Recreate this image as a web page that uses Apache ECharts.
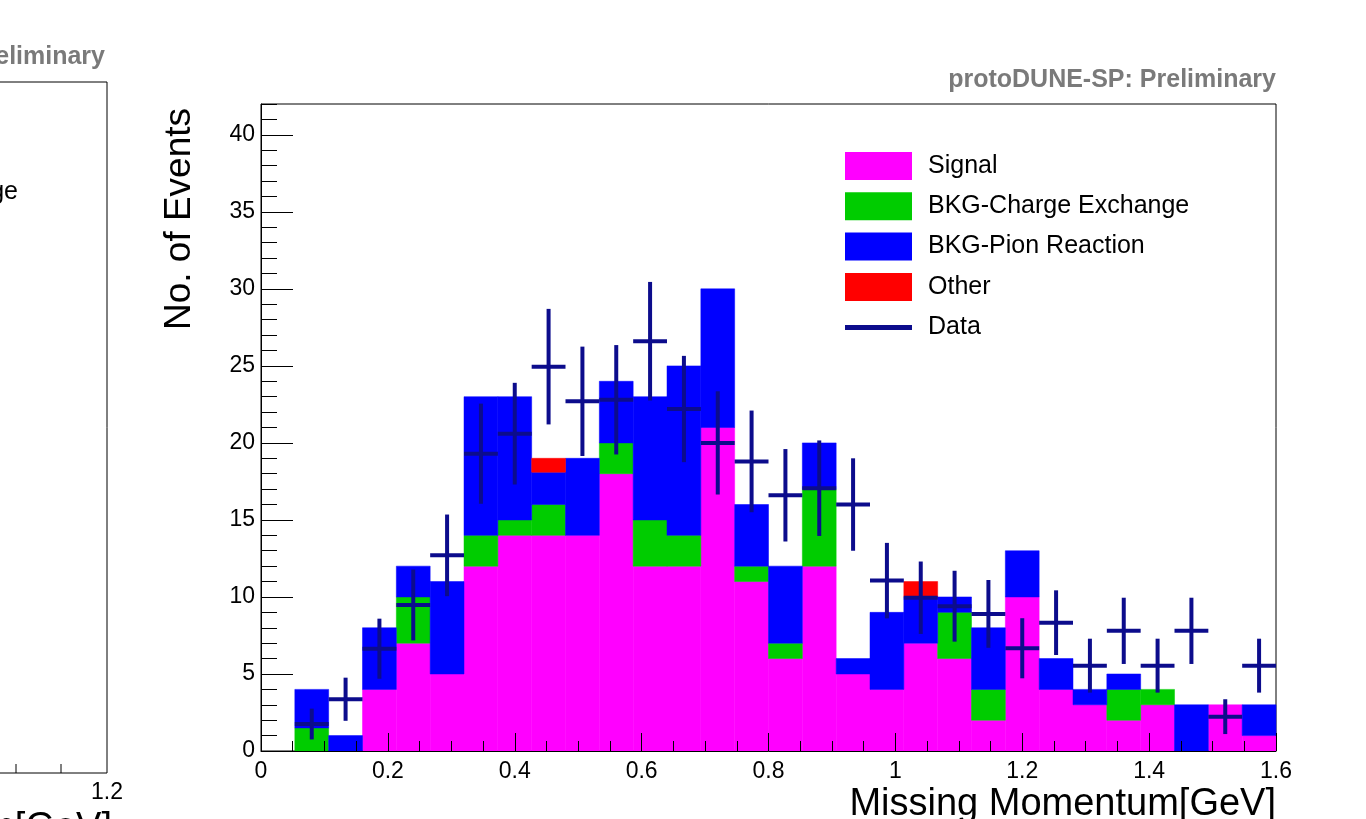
<!DOCTYPE html>
<html><head><meta charset="utf-8">
<script src="https://cdn.jsdelivr.net/npm/echarts@6/dist/echarts.min.js"></script>
<style>html,body{margin:0;padding:0;background:#fff}#c{width:1366px;height:819px}</style>
</head><body><div id="c"></div>
<script>
// Histogram binning: 30 bins over [0, 1.6] GeV
const xMin = 0, xMax = 1.6, nBins = 30;
// Stacked MC components per bin (bottom to top)
const signal         = [0,0,  0,4,7,5,12,14,14,14,18,12,12,21,11,6,12,5,4,7,6,2,10,4,3,2,3,0,3,1];
const chargeExchange = [0,1.5,0,0,3,0,2, 1, 2, 0, 2, 3, 2, 0, 1, 1,5, 0,0,0,3,2,0, 0,0,2,1,0,0,0];
const pionReaction   = [0,2.5,1,4,2,6,9, 8, 2.1,5,4, 8, 11,9, 4, 5,3, 1,5,3,1,4,3, 2,1,1,0,3,0,2];
const other          = [0,0,  0,0,0,0,0, 0, 0.9,0,0, 0, 0, 0, 0, 0,0, 0,0,1,0,0,0, 0,0,0,0,0,0,0];
// Data points and their error half-lengths
const dataValues = [null,1.75,3.36,6.64,9.48,12.7,19.3,20.6,24.95,22.7,22.8,26.6,22.2,20.0,18.8,16.6,17.06,16.0,11.06,9.95,9.4,8.9,6.67,8.33,5.54,7.8,5.54,7.8,2.23,5.54];
const dataErrors = [null,1.0,1.4,1.95,2.3,2.65,3.25,3.3,3.75,3.55,3.55,3.85,3.45,3.35,3.3,3.0,3.1,3.0,2.45,2.35,2.3,2.2,1.95,2.1,1.75,2.15,1.75,2.15,1.13,1.75];
const seriesNames = ['Signal','BKG-Charge Exchange','BKG-Pion Reaction','Other'];
const seriesColors = ['#ff00ff','#00cc00','#0000ff','#ff0000'];
const dataColor = '#0c0c8c';
const yMax = 42;

const binW = (xMax - xMin) / nBins;
const comps = [signal, chargeExchange, pionReaction, other];
const base = new Array(nBins).fill(0);
const barSeries = comps.map((vals, k) => {
  const rows = [];
  for (let i = 0; i < nBins; i++) {
    const lo = xMin + i * binW, hi = lo + binW;
    rows.push([lo, hi, base[i], base[i] + vals[i]]);
    base[i] += vals[i];
  }
  return {
    type: 'custom', name: seriesNames[k], z: 2, yAxisIndex: 0,
    itemStyle: { color: seriesColors[k] },
    encode: { x: [0, 1], y: [2, 3] },
    data: rows,
    renderItem: function (params, api) {
      const lo = api.value(0), hi = api.value(1), b = api.value(2), t = api.value(3);
      if (!(t > b)) return null;
      const p1 = api.coord([lo, t]), p2 = api.coord([hi, b]);
      return { type: 'rect', shape: { x: p1[0], y: p1[1], width: p2[0] - p1[0], height: p2[1] - p1[1] },
        style: { fill: api.visual('color'), stroke: api.visual('color'), lineWidth: 0.5 } };
    }
  };
});
const dataRows = [];
for (let i = 0; i < nBins; i++) {
  if (dataValues[i] == null) continue;
  const lo = xMin + i * binW;
  dataRows.push([lo, lo + binW, dataValues[i], dataErrors[i]]);
}
const dataSeries = {
  type: 'custom', name: 'Data', z: 4, yAxisIndex: 0,
  itemStyle: { color: dataColor },
  encode: { x: [0, 1], y: [2] },
  data: dataRows,
  renderItem: function (params, api) {
    const lo = api.value(0), hi = api.value(1), v = api.value(2), e = api.value(3);
    const a = api.coord([lo, v]), b = api.coord([hi, v]);
    const c = api.coord([(lo + hi) / 2, v + e]), d = api.coord([(lo + hi) / 2, v - e]);
    return { type: 'group', children: [
      { type: 'line', shape: { x1: a[0], y1: a[1], x2: b[0], y2: b[1] }, style: { stroke: dataColor, lineWidth: 4 } },
      { type: 'line', shape: { x1: c[0], y1: c[1], x2: d[0], y2: d[1] }, style: { stroke: dataColor, lineWidth: 4 } }
    ] };
  }
};

const FF = 'Liberation Sans, Arial, Helvetica, sans-serif';
const chart = echarts.init(document.getElementById('c'));
chart.setOption({
  animation: false,
  backgroundColor: '#ffffff',
  grid: { left: 261, right: 90, top: 104, bottom: 68, show: true, borderColor: '#000', borderWidth: 1, backgroundColor: 'transparent' },
  xAxis: {
    type: 'value', min: xMin, max: xMax, interval: 0.2, z: 5,
    axisLine: { lineStyle: { color: '#000', width: 1 } },
    axisTick: { inside: true, length: 18, lineStyle: { color: '#000' } },
    minorTick: { show: true, splitNumber: 4, length: 10, lineStyle: { color: '#000' } },
    splitLine: { show: false },
    axisLabel: { color: '#000', fontSize: 23, fontFamily: FF, margin: 9 }
  },
  yAxis: [
    {
      type: 'value', min: 0, max: yMax, interval: 5, z: 5, position: 'left',
      axisLine: { show: true, lineStyle: { color: '#000', width: 1 } },
      axisTick: { show: true, inside: true, length: 32, lineStyle: { color: '#000' } },
      splitLine: { show: false },
      axisLabel: { color: '#000', fontSize: 23, fontFamily: FF, margin: 6, showMaxLabel: false }
    },
    {
      type: 'value', min: 0, max: yMax, interval: 1, z: 5, position: 'left',
      axisLine: { show: false },
      axisTick: { show: true, inside: true, length: 16, lineStyle: { color: '#000' } },
      splitLine: { show: false },
      axisLabel: { show: false }
    }
  ],
  legend: [
    { data: seriesNames, orient: 'vertical', left: 840, top: 147, itemWidth: 67, itemHeight: 28, itemGap: 12.3,
      icon: 'rect', selectedMode: false,
      textStyle: { fontSize: 25, fontFamily: FF, color: '#000', padding: [0, 0, 0, 11] } },
    { data: [{ name: 'Data', icon: 'rect' }], orient: 'vertical', left: 840, top: 310, itemWidth: 67, itemHeight: 5,
      selectedMode: false,
      textStyle: { fontSize: 25, fontFamily: FF, color: '#000', padding: [0, 0, 0, 11] } }
  ],
  graphic: [
    { type: 'text', x: 1276, y: 80, style: { text: 'protoDUNE-SP: Preliminary', align: 'right', verticalAlign: 'middle',
      font: 'bold 25px ' + FF, fill: '#7a7a7a' } },
    { type: 'text', x: 1276, y: 805, style: { text: 'Missing Momentum[GeV]', align: 'right', verticalAlign: 'middle',
      font: '38px ' + FF, fill: '#000' } },
    { type: 'text', x: 180, y: 219, rotation: Math.PI / 2, style: { text: 'No. of Events', align: 'center', verticalAlign: 'middle',
      font: '37px ' + FF, fill: '#000' } },
    // partially visible neighbouring panel on the left edge
    { type: 'text', x: 105, y: 57, style: { text: 'protoDUNE-SP: Preliminary', align: 'right', verticalAlign: 'middle',
      font: 'bold 25px ' + FF, fill: '#7a7a7a' } },
    { type: 'polyline', shape: { points: [[-2, 82], [107, 82], [107, 773], [-2, 773]] }, style: { stroke: '#000', lineWidth: 1, fill: null } },
    { type: 'line', shape: { x1: 16, y1: 773, x2: 16, y2: 764 }, style: { stroke: '#000', lineWidth: 1 } },
    { type: 'line', shape: { x1: 61, y1: 773, x2: 61, y2: 764 }, style: { stroke: '#000', lineWidth: 1 } },
    { type: 'text', x: 107, y: 793, style: { text: '1.2', align: 'center', verticalAlign: 'middle', font: '23px ' + FF, fill: '#000' } },
    { type: 'text', x: 18, y: 192, style: { text: 'BKG-Charge Exchange', align: 'right', verticalAlign: 'middle', font: '25px ' + FF, fill: '#000' } },
    { type: 'text', x: 112, y: 829, style: { text: 'Missing Momentum[GeV]', align: 'right', verticalAlign: 'middle', font: '38px ' + FF, fill: '#000' } }
  ],
  series: barSeries.concat([dataSeries])
});
</script>
</body></html>
